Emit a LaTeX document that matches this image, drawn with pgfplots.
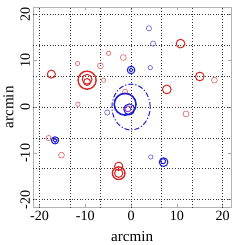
\documentclass[border=0pt]{standalone}
\usepackage{pgfplots}
\pgfplotsset{compat=1.18}
\usepackage{fontspec}
\setmainfont{Liberation Serif}
\definecolor{rstrong}{RGB}{215,40,40}
\definecolor{rlight}{RGB}{228,115,115}
\definecolor{bstrong}{RGB}{30,30,210}
\definecolor{blight}{RGB}{110,110,215}
\definecolor{purp}{RGB}{150,60,200}
\pgfplotsset{
  circ/.style={scatter, only marks, mark=o,
    scatter/use mapped color={draw=#1},
    visualization depends on={1.08*\thisrow{r}\as\rad},
    scatter/@pre marker code/.append style={/tikz/mark size=\rad}},
}
\begin{document}
\begin{tikzpicture}
\begin{axis}[
  scale only axis, width=196pt, height=199pt,
  xmin=-21.3, xmax=21.8, ymin=-21.7, ymax=21.6,
  xtick={-20,-10,0,10,20}, ytick={-20,-10,0,10,20},
  tick align=inside, tick pos=both,
  major tick length=3pt,
  tick style={draw=gray!70, line width=0.5pt},
  axis line style={draw=gray!60},
  extra x ticks={-20,-13.333,-6.667,0,6.667,13.333,20},
  extra y ticks={-20,-13.333,-6.667,0,6.667,13.333,20},
  extra x tick labels={}, extra y tick labels={},
  extra tick style={grid=major, major grid style={black!80, line width=0.7pt, dash pattern=on 0.7pt off 2pt}, tick style={draw=none}},
  /pgf/number format/assume math mode=true,
  ticklabel style={font=\fontsize{14}{16}\selectfont},
  yticklabel style={rotate=90, anchor=south},
  xlabel={arcmin}, ylabel={arcmin},
  label style={font=\fontsize{15}{17}\selectfont},
  xlabel style={yshift=-4pt},
  ylabel style={yshift=0pt},
  clip=false,
]
% red strong
\addplot[circ=rstrong, mark options={line width=1pt}] table {
x y r
-17.4 7.1 3.7
-9.6 6.0 4.5
-9.6 5.4 3.2
10.8 13.7 4.0
7.8 3.8 4.0
15.0 6.6 4.0
-2.7 -12.8 3.8
-2.7 -14.3 3.8
};
\addplot[circ=rstrong, mark options={line width=1.4pt}] table {
x y r
-9.6 5.8 8.3
-2.7 -14.3 5.8
};
% red light
\addplot[circ=rlight, mark options={line width=0.7pt}] table {
x y r
-11.7 9.4 2.0
-6.7 8.9 2.7
-4.9 11.6 2.0
-1.7 10.7 2.7
-6.0 5.8 2.0
-11.6 0.6 2.0
-1.3 3.3 2.4
18.2 5.8 2.7
12.0 -1.5 2.7
-18.0 -6.7 2.4
-15.2 -10.4 2.7
};
% blue strong
\addplot[circ=bstrong, mark options={line width=1pt}] table {
x y r
-0.4 -0.5 5.0
0.0 8.0 3.5
0.0 8.0 1.8
-16.6 -7.2 3.3
-16.6 -7.2 1.8
7.1 -11.9 4.0
7.0 -11.7 2.3
};
\addplot[circ=bstrong, mark options={line width=1.6pt}] table {
x y r
-1.3 0.6 10.0
};
% blue light
\addplot[circ=blight, mark options={line width=0.7pt}] table {
x y r
3.9 17.0 2.4
4.8 13.7 2.4
4.2 8.5 2.0
-5.2 -1.2 2.4
4.3 -10.8 2.0
};
% purple centre
\addplot[circ=purp, mark options={line width=1pt}] table {
x y r
-0.7 -0.4 2.7
};
% dashed ellipse
\addplot[only marks, mark=o, mark size=19pt,
  mark options={draw=bstrong, yscale=1.2, line width=1pt, dash pattern=on 5pt off 2pt on 1.2pt off 2pt}]
  coordinates {(0,0)};
\end{axis}
\path (current bounding box.north) ++(0,4pt);
\end{tikzpicture}
\end{document}
